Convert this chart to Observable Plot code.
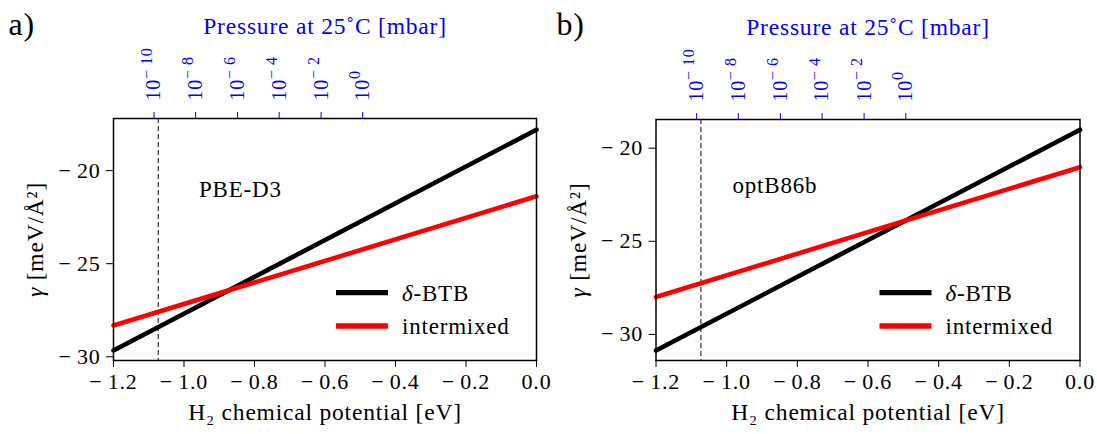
<!DOCTYPE html>
<html><head><meta charset="utf-8">
<script src="https://cdn.jsdelivr.net/npm/d3@7"></script>
<script src="https://cdn.jsdelivr.net/npm/@observablehq/plot@0.6"></script>
<style>
body{margin:0;background:#fff;}
#wrap{display:flex;width:1097px;height:434px;}
svg{overflow:visible;}
svg text{letter-spacing:0.8px;}
</style></head><body><div id="wrap"></div>
<script>
// H2 chemical potential endpoints [eV]
const mu = [-1.2, 0.0];
// surface energy gamma [meV/Å²]
const btbPBE = [-29.66, -17.80];
const mixPBE = [-28.32, -21.38];
const btbOpt = [-30.86, -19.01];
const mixOpt = [-27.99, -21.02];
const xTicks = [-1.2, -1.0, -0.8, -0.6, -0.4, -0.2, 0.0];
const yTicks = [-30, -25, -20];
const pressureExp = [-10, -8, -6, -4, -2, 0];
const pressureEV = [-1.085, -0.967, -0.848, -0.730, -0.611, -0.493];
const dashedEV = [-1.073];
const seriesNames = ["δ-BTB", "intermixed"];
const seriesColors = ["black", "red"];
const panelTags = ["a)", "b)"];
const methods = ["PBE-D3", "optB86b"];
const btbSeries = [btbPBE, btbOpt];
const mixSeries = [mixPBE, mixOpt];

const layouts = [
  {width: 548, ml: 113, mr: 12, mt: 118, mb: 74, yDomain: [-30.2, -17.2], textDx: 85.5, textDy: 70.7},
  {width: 549, ml: 107.5, mr: 17.5, mt: 119, mb: 74, yDomain: [-31.4, -18.46], textDx: 76.5, textDy: 66}
];

const FONT = "'Liberation Serif', 'Times New Roman', serif";
const expByEV = new Map(pressureEV.map((e, i) => [e, pressureExp[i]]));
const minus = "\u2212\u2009";
const fx = d => d === 0 ? "0.0" : (d < 0 ? minus : "") + Math.abs(d).toFixed(1);
const fy = d => (d < 0 ? minus : "") + Math.abs(d);
const SVGNS = "http://www.w3.org/2000/svg";
const yLabel = "γ [meV/Å²]";

const wrap = document.getElementById("wrap");

panelTags.forEach((tag, k) => {
  const L = layouts[k];
  const rows = [];
  mu.forEach((m, i) => rows.push({mu: m, gamma: btbSeries[k][i], series: seriesNames[0]}));
  mu.forEach((m, i) => rows.push({mu: m, gamma: mixSeries[k][i], series: seriesNames[1]}));

  const svg = Plot.plot({
    width: L.width, height: 434,
    marginLeft: L.ml, marginRight: L.mr, marginTop: L.mt, marginBottom: L.mb,
    style: {fontFamily: FONT, background: "transparent"},
    x: {domain: [-1.2, 0.0]},
    y: {domain: L.yDomain},
    color: {domain: seriesNames, range: seriesColors},
    marks: [
      Plot.ruleX(dashedEV, {stroke: "#444", strokeWidth: 1.3, strokeDasharray: "5,3"}),
      Plot.line(rows, {x: "mu", y: "gamma", z: "series", stroke: "series", strokeWidth: 4.6}),
      Plot.frame({stroke: "black", strokeWidth: 1.5}),
      Plot.axisX({anchor: "bottom", ticks: xTicks, tickFormat: fx, tickSize: 7, tickPadding: 6, fontSize: 22, label: null}),
      Plot.axisX(pressureEV, {anchor: "top", tickFormat: d => "10^" + expByEV.get(d), tickRotate: -90, tickSize: 7, tickPadding: 11, fontSize: 20, color: "blue", label: null}),
      Plot.axisY({ticks: yTicks, tickFormat: fy, tickSize: 7, tickPadding: 6, fontSize: 22, label: null}),
      Plot.text([methods[k]], {frameAnchor: "top-left", dx: L.textDx, dy: L.textDy, textAnchor: "start", lineAnchor: "middle", fontSize: 23}),
      Plot.text(["Pressure at 25˚C [mbar]"], {frameAnchor: "top", dy: -92, textAnchor: "middle", lineAnchor: "middle", fill: "blue", fontSize: 23.5}),
      Plot.text(["H₂ chemical potential [eV]"], {frameAnchor: "bottom", dy: 52, textAnchor: "middle", lineAnchor: "middle", fontSize: 23.5}),
      Plot.text([yLabel], {frameAnchor: "left", dx: -78, rotate: -90, textAnchor: "middle", lineAnchor: "middle", fontSize: 23.5}),
      Plot.text([tag], {frameAnchor: "top-left", dx: 8 - L.ml, dy: 24 - L.mt, textAnchor: "start", lineAnchor: "middle", fontSize: 32})
    ]
  });

  // superscript exponents for pressure ticks; italic gamma
  svg.querySelectorAll("text").forEach(t => {
    const s = t.textContent;
    if (s.startsWith("10^")) {
      const e = +s.slice(3);
      t.textContent = "";
      const base = document.createElementNS(SVGNS, "tspan");
      base.textContent = "10";
      const sup = document.createElementNS(SVGNS, "tspan");
      sup.setAttribute("dy", "-0.55em");
      sup.setAttribute("font-size", "16");
      sup.textContent = e === 0 ? "0" : "\u2212\u2009" + Math.abs(e);
      t.appendChild(base);
      t.appendChild(sup);
    } else if (s === yLabel) {
      t.textContent = "";
      const g1 = document.createElementNS(SVGNS, "tspan");
      g1.setAttribute("font-style", "italic");
      g1.textContent = "γ";
      const rest = document.createElementNS(SVGNS, "tspan");
      rest.textContent = yLabel.slice(1);
      t.appendChild(g1);
      t.appendChild(rest);
    }
  });

  // legend inside frame (bottom-right)
  const right = L.width - L.mr;
  const bottom = 434 - L.mb;
  const g = d3.select(svg).append("g")
    .attr("font-family", FONT)
    .attr("font-size", 23)
    .attr("text-anchor", "start");
  const rowY = [bottom - 67.3, bottom - 34];
  seriesNames.forEach((name, i) => {
    const y = rowY[i];
    g.append("line")
      .attr("x1", right - 200).attr("x2", right - 148)
      .attr("y1", y).attr("y2", y)
      .attr("stroke", seriesColors[i]).attr("stroke-width", 5.3);
    const t = g.append("text")
      .attr("x", right - 134).attr("y", y).attr("dy", "0.35em")
      .attr("text-anchor", "start")
      .attr("fill", "black");
    if (name.startsWith("δ")) {
      t.append("tspan").attr("font-style", "italic").text("δ");
      t.append("tspan").text(name.slice(1));
    } else {
      t.text(name);
    }
  });

  wrap.appendChild(svg);
});
</script>
</body></html>
